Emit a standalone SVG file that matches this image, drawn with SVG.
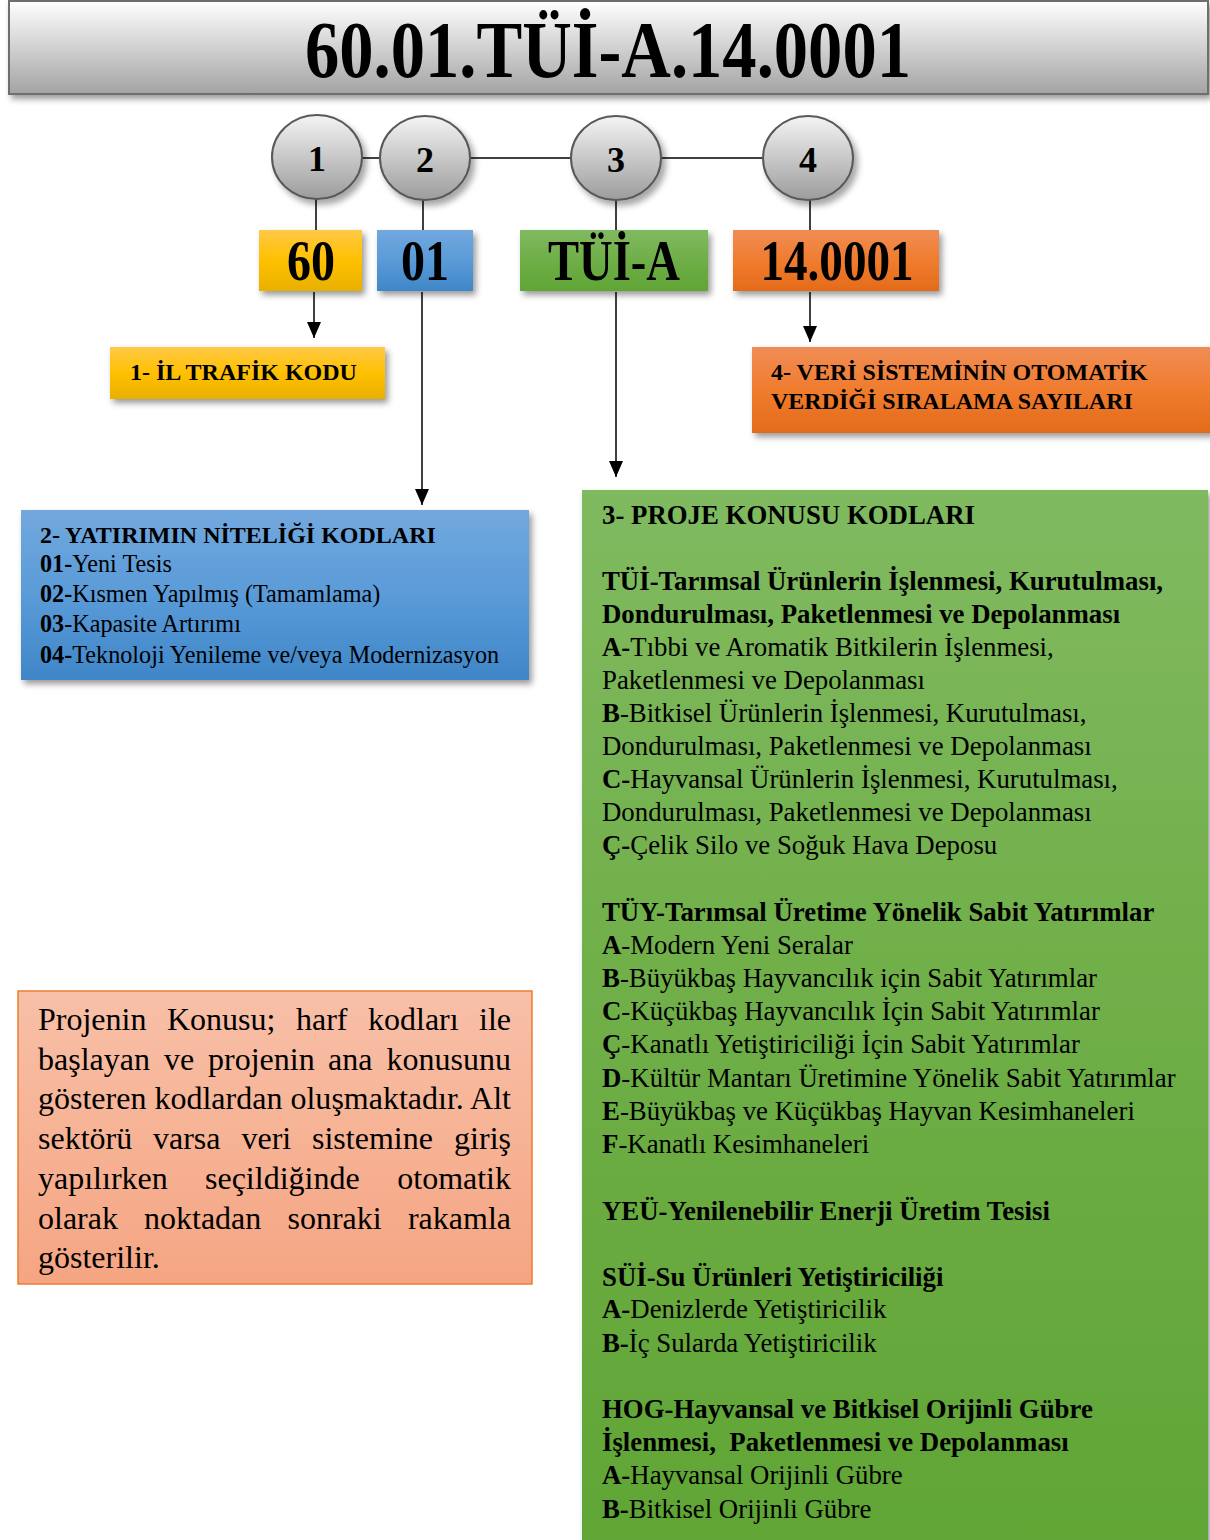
<svg xmlns="http://www.w3.org/2000/svg" width="1210" height="1540" viewBox="0 0 1210 1540">
<style>
text{font-family:"Liberation Serif","Times New Roman",serif;fill:#000}
.b{font-weight:bold}
.num{font-size:36px;font-weight:bold;text-anchor:middle}
.code{font-size:56px;font-weight:bold;text-anchor:middle}
.lbl{font-size:24px;font-weight:bold}
.bl{font-size:24.2px}
.gr{font-size:26.8px}
.pk{font-size:32px}
.conn{stroke:#404040;stroke-width:2;fill:none}
.circ{fill:url(#gCirc);stroke:#595959;stroke-width:2}
</style>
<defs>
<linearGradient id="gTitle" x1="0" y1="0" x2="0" y2="1"><stop offset="0" stop-color="#ffffff"/><stop offset="1" stop-color="#a3a3a3"/></linearGradient>
<linearGradient id="gCirc" x1="0" y1="0" x2="0" y2="1"><stop offset="0" stop-color="#f4f4f4"/><stop offset="1" stop-color="#9c9c9c"/></linearGradient>
<linearGradient id="gY" x1="0" y1="0" x2="0" y2="1"><stop offset="0" stop-color="#ffc947"/><stop offset="0.5" stop-color="#ffc000"/><stop offset="1" stop-color="#e9b000"/></linearGradient>
<linearGradient id="gB" x1="0" y1="0" x2="0" y2="1"><stop offset="0" stop-color="#72a8de"/><stop offset="0.5" stop-color="#5a9bd8"/><stop offset="1" stop-color="#3f86c8"/></linearGradient>
<linearGradient id="gG" x1="0" y1="0" x2="0" y2="1"><stop offset="0" stop-color="#80ba60"/><stop offset="0.5" stop-color="#6fae47"/><stop offset="1" stop-color="#60a535"/></linearGradient>
<linearGradient id="gO" x1="0" y1="0" x2="0" y2="1"><stop offset="0" stop-color="#f08d55"/><stop offset="0.5" stop-color="#f07c2e"/><stop offset="1" stop-color="#e36b1a"/></linearGradient>
<linearGradient id="gP" x1="0" y1="0" x2="0" y2="1"><stop offset="0" stop-color="#f8c0a8"/><stop offset="1" stop-color="#f5a582"/></linearGradient>
<filter id="sh" x="-10%" y="-10%" width="125%" height="140%"><feDropShadow dx="3" dy="4" stdDeviation="3" flood-color="#000" flood-opacity="0.4"/></filter>
<filter id="shc" x="-20%" y="-20%" width="150%" height="150%"><feDropShadow dx="4" dy="5" stdDeviation="3" flood-color="#000" flood-opacity="0.35"/></filter>
<marker id="arr" markerUnits="userSpaceOnUse" markerWidth="16" markerHeight="14" refX="16" refY="7" orient="auto"><path d="M0,0 L16,7 L0,14 Z" fill="#000"/></marker>
</defs>

<g id="title">
<rect x="9" y="1" width="1199" height="93" fill="url(#gTitle)" stroke="#6e6e6e" stroke-width="2" filter="url(#sh)"/>
<text x="608" y="77" style="font-size:80px;font-weight:bold" text-anchor="middle" textLength="606" lengthAdjust="spacingAndGlyphs">60.01.TÜİ-A.14.0001</text>
</g>

<g id="connectors">
<line class="conn" x1="340" y1="158" x2="790" y2="158"/>
<line class="conn" x1="316" y1="195" x2="316" y2="231"/>
<line class="conn" x1="423" y1="195" x2="423" y2="231"/>
<line class="conn" x1="616" y1="195" x2="616" y2="231"/>
<line class="conn" x1="810" y1="195" x2="810" y2="231"/>
<line class="conn" x1="314" y1="292" x2="314" y2="338" marker-end="url(#arr)"/>
<line class="conn" x1="422" y1="292" x2="422" y2="505" marker-end="url(#arr)"/>
<line class="conn" x1="616" y1="292" x2="616" y2="477" marker-end="url(#arr)"/>
<line class="conn" x1="810" y1="292" x2="810" y2="342" marker-end="url(#arr)"/>
</g>

<g id="circle1"><ellipse class="circ" cx="317" cy="157" rx="45" ry="42" filter="url(#shc)"/><text class="num" x="317" y="171">1</text></g>
<g id="circle2"><ellipse class="circ" cx="425" cy="158" rx="45" ry="42" filter="url(#shc)"/><text class="num" x="425" y="172">2</text></g>
<g id="circle3"><ellipse class="circ" cx="616" cy="158" rx="45" ry="42" filter="url(#shc)"/><text class="num" x="616" y="172">3</text></g>
<g id="circle4"><ellipse class="circ" cx="808" cy="158" rx="45" ry="42" filter="url(#shc)"/><text class="num" x="808" y="172">4</text></g>

<g id="code60"><rect x="259" y="230" width="103" height="61" fill="url(#gY)" filter="url(#sh)"/><text class="code" x="311" y="280" textLength="48" lengthAdjust="spacingAndGlyphs">60</text></g>
<g id="code01"><rect x="377" y="230" width="96" height="61" fill="url(#gB)" filter="url(#sh)"/><text class="code" x="425" y="280" textLength="48" lengthAdjust="spacingAndGlyphs">01</text></g>
<g id="codeTUI"><rect x="520" y="230" width="188" height="61" fill="url(#gG)" filter="url(#sh)"/><text class="code" x="614" y="280" textLength="132" lengthAdjust="spacingAndGlyphs">TÜİ-A</text></g>
<g id="code14"><rect x="733" y="230" width="206" height="61" fill="url(#gO)" filter="url(#sh)"/><text class="code" x="837" y="280" textLength="153" lengthAdjust="spacingAndGlyphs">14.0001</text></g>

<g id="box1">
<rect x="110" y="347" width="275" height="52" fill="url(#gY)" filter="url(#sh)"/>
<text class="lbl" x="130" y="380">1- İL TRAFİK KODU</text>
</g>

<g id="box4">
<rect x="752" y="347" width="460" height="86" fill="url(#gO)" filter="url(#sh)"/>
<text class="lbl" x="771" y="380">4- VERİ SİSTEMİNİN OTOMATİK</text>
<text class="lbl" x="771" y="409">VERDİĞİ SIRALAMA SAYILARI</text>
</g>

<g id="box2">
<rect x="21" y="510" width="508" height="170" fill="url(#gB)" filter="url(#sh)"/>
<text class="lbl" x="40" y="543">2- YATIRIMIN NİTELİĞİ KODLARI</text>
<text class="bl" x="40" y="572"><tspan class="b">01-</tspan>Yeni Tesis</text>
<text class="bl" x="40" y="602"><tspan class="b">02-</tspan>Kısmen Yapılmış (Tamamlama)</text>
<text class="bl" x="40" y="632"><tspan class="b">03</tspan>-Kapasite Artırımı</text>
<text class="bl" x="40" y="663"><tspan class="b">04-</tspan>Teknoloji Yenileme ve/veya Modernizasyon</text>
</g>

<g id="box3">
<rect x="582" y="490" width="626" height="1060" fill="url(#gG)" filter="url(#sh)"/>
<text class="gr b" x="602" y="524">3- PROJE KONUSU KODLARI</text>
<text class="gr b" x="602" y="590">TÜİ-Tarımsal Ürünlerin İşlenmesi, Kurutulması,</text>
<text class="gr b" x="602" y="623">Dondurulması, Paketlenmesi ve Depolanması</text>
<text class="gr" x="602" y="656"><tspan class="b">A-</tspan>Tıbbi ve Aromatik Bitkilerin İşlenmesi,</text>
<text class="gr" x="602" y="689">Paketlenmesi ve Depolanması</text>
<text class="gr" x="602" y="722"><tspan class="b">B</tspan>-Bitkisel Ürünlerin İşlenmesi, Kurutulması,</text>
<text class="gr" x="602" y="755">Dondurulması, Paketlenmesi ve Depolanması</text>
<text class="gr" x="602" y="788"><tspan class="b">C-</tspan>Hayvansal Ürünlerin İşlenmesi, Kurutulması,</text>
<text class="gr" x="602" y="821">Dondurulması, Paketlenmesi ve Depolanması</text>
<text class="gr" x="602" y="854"><tspan class="b">Ç-</tspan>Çelik Silo ve Soğuk Hava Deposu</text>
<text class="gr b" x="602" y="921">TÜY-Tarımsal Üretime Yönelik Sabit Yatırımlar</text>
<text class="gr" x="602" y="954"><tspan class="b">A</tspan>-Modern Yeni Seralar</text>
<text class="gr" x="602" y="987"><tspan class="b">B</tspan>-Büyükbaş Hayvancılık için Sabit Yatırımlar</text>
<text class="gr" x="602" y="1020"><tspan class="b">C</tspan>-Küçükbaş Hayvancılık İçin Sabit Yatırımlar</text>
<text class="gr" x="602" y="1053"><tspan class="b">Ç</tspan>-Kanatlı Yetiştiriciliği İçin Sabit Yatırımlar</text>
<text class="gr" x="602" y="1087"><tspan class="b">D</tspan>-Kültür Mantarı Üretimine Yönelik Sabit Yatırımlar</text>
<text class="gr" x="602" y="1120"><tspan class="b">E</tspan>-Büyükbaş ve Küçükbaş Hayvan Kesimhaneleri</text>
<text class="gr" x="602" y="1153"><tspan class="b">F</tspan>-Kanatlı Kesimhaneleri</text>
<text class="gr b" x="602" y="1220">YEÜ-Yenilenebilir Enerji Üretim Tesisi</text>
<text class="gr b" x="602" y="1286">SÜİ-Su Ürünleri Yetiştiriciliği</text>
<text class="gr" x="602" y="1318"><tspan class="b">A-</tspan>Denizlerde Yetiştiricilik</text>
<text class="gr" x="602" y="1352"><tspan class="b">B-</tspan>İç Sularda Yetiştiricilik</text>
<text class="gr b" x="602" y="1418">HOG-Hayvansal ve Bitkisel Orijinli Gübre</text>
<text class="gr b" x="602" y="1451" xml:space="preserve">İşlenmesi,  Paketlenmesi ve Depolanması</text>
<text class="gr" x="602" y="1484"><tspan class="b">A-</tspan>Hayvansal Orijinli Gübre</text>
<text class="gr" x="602" y="1518"><tspan class="b">B-</tspan>Bitkisel Orijinli Gübre</text>
</g>

<g id="note">
<rect x="18" y="991" width="514" height="293" fill="url(#gP)" stroke="#ed7d31" stroke-width="1.5"/>
<text class="pk" y="1030"><tspan x="38">Projenin</tspan><tspan x="167">Konusu;</tspan><tspan x="296">harf</tspan><tspan x="368">kodları</tspan></text>
<text class="pk" x="511" y="1030" text-anchor="end">ile</text>
<text class="pk" y="1070"><tspan x="38">başlayan</tspan><tspan x="164">ve</tspan><tspan x="208">projenin</tspan><tspan x="328">ana</tspan></text>
<text class="pk" x="511" y="1070" text-anchor="end">konusunu</text>
<text class="pk" x="38" y="1109" textLength="473" lengthAdjust="spacing">gösteren kodlardan oluşmaktadır. Alt</text>
<text class="pk" y="1149"><tspan x="38">sektörü</tspan><tspan x="153">varsa</tspan><tspan x="241.5">veri</tspan><tspan x="312">sistemine</tspan></text>
<text class="pk" x="511" y="1149" text-anchor="end">giriş</text>
<text class="pk" y="1189"><tspan x="38">yapılırken</tspan><tspan x="205">seçildiğinde</tspan></text>
<text class="pk" x="511" y="1189" text-anchor="end">otomatik</text>
<text class="pk" y="1229"><tspan x="38">olarak</tspan><tspan x="144">noktadan</tspan><tspan x="287.5">sonraki</tspan></text>
<text class="pk" x="511" y="1229" text-anchor="end">rakamla</text>
<text class="pk" x="38" y="1268">gösterilir.</text>
</g>
</svg>
